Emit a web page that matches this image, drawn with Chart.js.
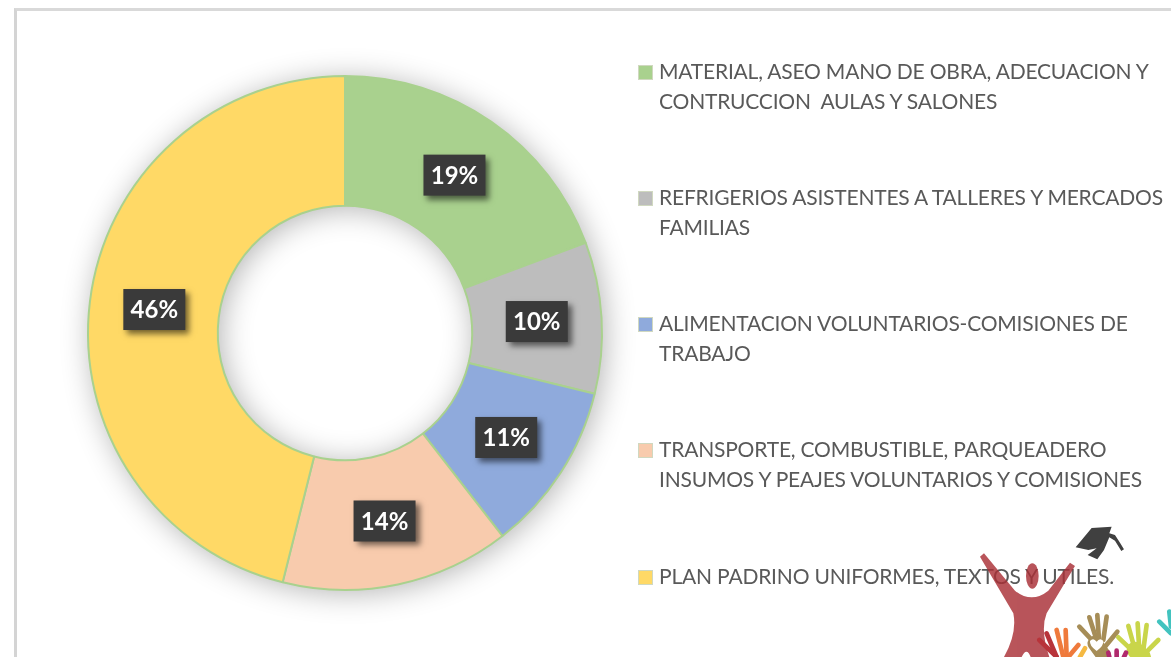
<!DOCTYPE html>
<html>
<head>
<meta charset="utf-8">
<script src="https://cdn.jsdelivr.net/npm/chart.js@4"></script>
<style>
html,body{margin:0;padding:0;background:#fff;overflow:hidden}
#wrap{position:relative;width:1171px;height:657px;overflow:hidden;background:#fff}
#frame{position:absolute;left:14px;top:8px;width:1200px;height:700px;border-left:3px solid #d4d4d4;border-top:3px solid #d9d9d9}
canvas{position:absolute;left:0;top:0}
.leg{position:absolute;left:659px;font:21px/30px Lato,sans-serif;color:#595959;white-space:pre;letter-spacing:-.2px}
.box{position:absolute;left:638px;width:15px;height:15px}
#deco{position:absolute;left:0;top:0}
</style>
</head>
<body>
<div id="wrap">
<div id="frame"></div>
<canvas id="c" width="1171" height="657"></canvas>
<div id="legend"></div>
<svg id="deco" width="1171" height="657">
 <g transform="translate(900,500) scale(0.3333)">
  <path d="M527,142 L575,84 L635,80 L628,100 L645,105 L660,128 L672,148 L664,153 L645,122 L628,112 L612,150 L592,178 L563,165 L590,145 L565,150 Z" fill="#404040"/>
  <g opacity=".82" fill="#a92f36">
   <ellipse cx="397" cy="228" rx="19" ry="38"/>
   <path d="M240,170 L252,160 L345,272 Q395,312 445,272 L510,188 L525,198 L440,340 Q420,390 448,471 L392,471 Q380,440 365,471 L312,471 Q352,400 340,340 Z"/>
  </g>
  <g fill="none" stroke-linecap="round" stroke-width="14">
   <g stroke="#b8343a"><path d="M418,420 L470,471"/><path d="M440,400 L470,471"/></g>
   <g stroke="#ef7a3c"><path d="M470,390 L490,471"/><path d="M497,390 L500,471"/><path d="M535,435 L505,471"/></g>
   <g stroke="#f5b942"><path d="M555,445 L540,471"/></g>
   <g stroke="#a68d57"><path d="M538,380 L585,430"/><path d="M568,352 L590,420"/><path d="M592,345 L597,420"/><path d="M620,350 L610,420"/><path d="M652,395 L615,440"/><path d="M585,430 L610,465" stroke-width="45"/></g>
   <g stroke="#c9d54a"><path d="M655,412 L700,455"/><path d="M685,378 L705,450"/><path d="M713,370 L718,450"/><path d="M740,375 L730,450"/><path d="M775,420 L735,460"/><path d="M705,450 L728,471" stroke-width="50"/></g>
   <g stroke="#b0296c"><path d="M625,458 L628,471"/><path d="M650,452 L650,471"/><path d="M678,458 L672,471"/></g>
   <g stroke="#42c3bf"><path d="M778,365 L813,400"/><path d="M808,335 L813,380"/></g>
  </g>
  <path d="M590,425 q-10,-14 -20,-2 q-2,14 20,30 q22,-16 20,-30 q-10,-12 -20,2Z" fill="#fff"/>
 </g>
</svg>
</div>
<script>
const categories = [
  ["MATERIAL, ASEO MANO DE OBRA, ADECUACION Y", "CONTRUCCION  AULAS Y SALONES"],
  ["REFRIGERIOS ASISTENTES A TALLERES Y MERCADOS", "FAMILIAS"],
  ["ALIMENTACION VOLUNTARIOS-COMISIONES DE", "TRABAJO"],
  ["TRANSPORTE, COMBUSTIBLE, PARQUEADERO", "INSUMOS Y PEAJES VOLUNTARIOS Y COMISIONES"],
  ["PLAN PADRINO UNIFORMES, TEXTOS Y UTILES."]
];
const values = [19.3, 9.5, 10.7, 14.4, 46.1];
const colors = ["#a9d18e", "#bdbdbd", "#8faadc", "#f8cbad", "#ffd966"];
const legendTops = [56, 182, 308, 434, 561];

const legend = document.getElementById('legend');
categories.forEach((lines, i) => {
  const t = document.createElement('div');
  t.className = 'leg';
  t.style.top = legendTops[i] + 'px';
  t.textContent = lines.join('\n');
  legend.appendChild(t);
  const b = document.createElement('div');
  b.className = 'box';
  b.style.top = (legendTops[i] + 9) + 'px';
  b.style.background = colors[i];
  b.style.border = '1px solid #d0d8c0';
  b.style.boxSizing = 'border-box';
  legend.appendChild(b);
});

const ringShadow = {
  id: 'ringShadow',
  beforeDatasetsDraw(chart) {
    const a = chart.getDatasetMeta(0).data[0];
    if (!a) return;
    const ctx = chart.ctx;
    ctx.save();
    ctx.shadowColor = 'rgba(0,0,0,.3)';
    ctx.shadowBlur = 30;
    ctx.shadowOffsetX = 3;
    ctx.shadowOffsetY = 3;
    ctx.fillStyle = '#fff';
    ctx.beginPath();
    ctx.arc(a.x, a.y, a.outerRadius, 0, Math.PI * 2);
    ctx.arc(a.x, a.y, a.innerRadius, Math.PI * 2, 0, true);
    ctx.closePath();
    ctx.fill();
    ctx.restore();
  }
};

const boxLabels = {
  id: 'boxLabels',
  afterDatasetsDraw(chart) {
    const ctx = chart.ctx;
    chart.getDatasetMeta(0).data.forEach((arc, i) => {
      const p = arc.getCenterPoint();
      const w = 62, h = 41;
      ctx.save();
      ctx.shadowColor = 'rgba(0,0,0,.55)';
      ctx.shadowBlur = 6;
      ctx.shadowOffsetX = 4;
      ctx.shadowOffsetY = 4;
      ctx.fillStyle = '#3a3a3a';
      ctx.fillRect(p.x - w / 2, p.y - h / 2, w, h);
      ctx.restore();
      ctx.save();
      ctx.fillStyle = '#fff';
      ctx.font = 'bold 24px Lato, sans-serif';
      ctx.textAlign = 'center';
      ctx.textBaseline = 'middle';
      ctx.fillText(Math.round(values[i]) + '%', p.x, p.y + 1);
      ctx.restore();
    });
  }
};

new Chart(document.getElementById('c'), {
  type: 'doughnut',
  data: {
    labels: categories.map(l => l.join(' ')),
    datasets: [{
      data: values,
      backgroundColor: colors,
      borderColor: '#a9d18e',
      borderWidth: 2
    }]
  },
  options: {
    responsive: false,
    animation: false,
    cutout: '49.5%',
    layout: { padding: { left: 87, right: 568, top: 75, bottom: 66 } },
    plugins: { legend: { display: false }, tooltip: { enabled: false } }
  },
  plugins: [ringShadow, boxLabels]
});
</script>
</body>
</html>
